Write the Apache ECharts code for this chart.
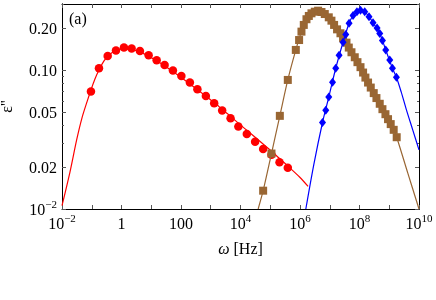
<!DOCTYPE html>
<html>
<head>
<meta charset="utf-8">
<script src="https://cdn.jsdelivr.net/npm/echarts@6/dist/echarts.min.js"></script>
<style>html,body{margin:0;padding:0;background:#fff;}#c{width:436px;height:300px;}</style>
</head>
<body>
<div id="c"></div>
<script>
// ---- data ----
const redPtsX = [0.094, 0.175, 0.343, 0.652, 1.21, 2.19, 4.17, 8.16, 15.2, 28.1, 53.5, 103, 199, 356, 686, 1303, 2420, 4630, 8470, 16300, 31000, 57700, 110000, 205000, 389000];
const redPtsY = [0.0702, 0.1033, 0.1268, 0.1387, 0.1456, 0.1436, 0.1377, 0.128, 0.1178, 0.1092, 0.0997, 0.091, 0.0815, 0.0728, 0.0653, 0.0577, 0.0512, 0.045, 0.0393, 0.0347, 0.0305, 0.0271, 0.0246, 0.0217, 0.0198];
const redFitX = [0.01, 0.0186, 0.0312, 0.047, 0.0692, 0.094, 0.128, 0.175, 0.258, 0.379, 0.603, 1.035, 1.92, 4.17, 9.04, 19.5, 42.4, 91.8, 199, 431, 935, 2024, 4385, 9500, 20600, 44700, 96800, 210000, 454000, 984000, 1.87e6];
const redFitY = [0.01056, 0.01854, 0.0316, 0.0454, 0.0592, 0.0721, 0.0865, 0.1005, 0.1167, 0.1288, 0.1377, 0.1423, 0.1412, 0.1355, 0.1247, 0.113, 0.1014, 0.0902, 0.0797, 0.0703, 0.0617, 0.054, 0.0469, 0.0407, 0.0354, 0.0308, 0.0267, 0.023, 0.0198, 0.01694, 0.01455];

const brownPtsX = [57700, 110000, 210000, 389000, 723000, 933000, 1.12e6, 1.34e6, 1.65e6, 1.98e6, 2.43e6, 3.14e6, 4.06e6, 5.27e6, 6.81e6, 9.27e6, 1.14e7, 1.40e7, 1.76e7, 2.29e7, 2.80e7, 3.65e7, 4.36e7, 5.37e7, 6.93e7, 8.54e7, 1.08e8, 1.32e8, 1.58e8, 1.94e8, 2.39e8, 3.01e8, 3.71e8, 4.79e8, 5.90e8, 7.45e8, 9.10e8, 1.12e9, 1.41e9, 1.78e9];
const brownPtsY = [0.01355, 0.0251, 0.0469, 0.0851, 0.140, 0.165, 0.1897, 0.212, 0.233, 0.246, 0.257, 0.264, 0.2685, 0.2626, 0.254, 0.2405, 0.2275, 0.212, 0.197, 0.1846, 0.170, 0.158, 0.1456, 0.1347, 0.124, 0.1143, 0.1052, 0.0962, 0.0885, 0.0815, 0.075, 0.0684, 0.063, 0.0573, 0.0524, 0.0482, 0.0444, 0.0409, 0.0372, 0.0329];
const brownFitX = [39200, 57700, 110000, 210000, 389000, 723000, 1.12e6, 1.65e6, 2.43e6, 4.06e6, 6.81e6, 1.14e7, 1.76e7, 2.80e7, 4.36e7, 6.93e7, 1.08e8, 1.58e8, 2.39e8, 3.71e8, 5.90e8, 9.10e8, 1.41e9, 1.78e9, 4.18e9, 1e10];
const brownFitY = [0.01, 0.01355, 0.0251, 0.0469, 0.0851, 0.140, 0.1897, 0.233, 0.257, 0.2685, 0.254, 0.2275, 0.197, 0.170, 0.1456, 0.124, 0.1052, 0.0885, 0.075, 0.063, 0.0524, 0.0444, 0.0372, 0.0329, 0.0182, 0.01];

const bluePtsX = [5.70e6, 7.35e6, 9.27e6, 1.24e7, 1.59e7, 2.06e7, 2.80e7, 3.45e7, 4.46e7, 6.07e7, 8.20e7, 1.08e8, 1.50e8, 2.09e8, 2.85e8, 3.89e8, 4.79e8, 5.90e8, 7.62e8, 1.04e9, 1.28e9, 1.74e9];
const bluePtsY = [0.042, 0.0514, 0.064, 0.082, 0.1033, 0.128, 0.159, 0.181, 0.218, 0.248, 0.2636, 0.2705, 0.2636, 0.243, 0.22, 0.2015, 0.184, 0.1634, 0.140, 0.1186, 0.1033, 0.0891];
const blueFitX = [1.57e6, 2.90e6, 5.70e6, 9.27e6, 1.59e7, 2.80e7, 4.46e7, 6.07e7, 8.20e7, 1.08e8, 1.50e8, 2.09e8, 2.85e8, 4.79e8, 7.62e8, 1.28e9, 1.74e9, 2.52e9, 3.78e9, 6.15e9, 1e10];
const blueFitY = [0.01, 0.0208, 0.042, 0.064, 0.1033, 0.159, 0.218, 0.248, 0.2636, 0.2705, 0.2636, 0.243, 0.22, 0.184, 0.140, 0.1033, 0.0891, 0.0698, 0.0518, 0.0372, 0.0267];

// ticks and labels
const xLabelVals = [0.01, 1, 100, 1e4, 1e6, 1e8, 1e10];
const xLabelBase = ['10', '1', '100', '10', '10', '10', '10'];
const xLabelExp  = ['\u22122', '', '', '4', '6', '8', '10'];
const xTickVals = [0.01, 0.1, 1, 10, 100, 1e3, 1e4, 1e5, 1e6, 1e7, 1e8, 1e9, 1e10];
const yLabelVals = [0.01, 0.02, 0.05, 0.1, 0.2];
const yLabelBase = ['10', '0.02', '0.05', '0.10', '0.20'];
const yLabelExp  = ['\u22122', '', '', '', ''];
const yMinorVals = [0.03, 0.04, 0.06, 0.07, 0.08, 0.09, 0.3];

const FONT = "'Liberation Serif','Times New Roman',serif";
const zip = (a, b) => a.map((v, i) => [v, b[i]]);
const richLabel = (bases, exps, vals) => (v) => {
  let i = vals.findIndex(t => Math.abs(Math.log10(t) - Math.log10(v)) < 1e-6);
  if (i < 0) return '';
  return exps[i] ? '{b|' + bases[i] + '}{s|' + exps[i] + '}' : '{b|' + bases[i] + '}';
};
const rich = {
  b: { fontFamily: FONT, fontSize: 16, color: '#000', lineHeight: 19, verticalAlign: 'bottom' },
  s: { fontFamily: FONT, fontSize: 11, color: '#000', lineHeight: 11, verticalAlign: 'top' }
};
const lineStyleAxis = { color: '#000', width: 1 };

function xAx(pos, show) {
  return {
    type: 'log', logBase: 10, min: 0.01, max: 1e10, position: pos, gridIndex: 0,
    axisLine: { show: true, onZero: false, lineStyle: lineStyleAxis },
    axisTick: { show: true, inside: true, length: 4, customValues: xTickVals, lineStyle: { color: '#555' } },
    axisLabel: show ? { show: true, margin: 5, customValues: xLabelVals, formatter: richLabel(xLabelBase, xLabelExp, xLabelVals), rich: rich } : { show: false },
    splitLine: { show: false }, minorTick: { show: false },
    name: show ? '{i|\u03c9} [Hz]' : '', nameLocation: 'middle', nameGap: 33,
    nameTextStyle: { fontFamily: FONT, fontSize: 16, color: '#000', rich: { i: { fontFamily: FONT, fontSize: 16, fontStyle: 'italic', color: '#000' } } }
  };
}
function yAx(pos, show, vals, len) {
  return {
    type: 'log', logBase: 10, min: 0.01, max: 0.3, position: pos, gridIndex: 0,
    axisLine: { show: true, onZero: false, lineStyle: lineStyleAxis },
    axisTick: { show: true, inside: true, length: len, customValues: vals, lineStyle: { color: '#555' } },
    axisLabel: show ? { show: true, margin: 5, customValues: yLabelVals, formatter: richLabel(yLabelBase, yLabelExp, yLabelVals), rich: rich } : { show: false },
    splitLine: { show: false }, minorTick: { show: false },
    name: show ? "\u03b5''" : '', nameLocation: 'middle', nameGap: 46, nameRotate: 90,
    nameTextStyle: { fontFamily: FONT, fontSize: 16, color: '#000' }
  };
}

const chart = echarts.init(document.getElementById('c'), null, { renderer: 'canvas' });
chart.setOption({
  animation: false,
  backgroundColor: '#fff',
  grid: { left: 62, right: 17, top: 4, bottom: 91, containLabel: false, outerBoundsMode: 'none' },
  xAxis: [xAx('bottom', true), xAx('top', false)],
  yAxis: [
    yAx('left', true, yLabelVals, 4),
    yAx('right', false, yLabelVals, 4),
    yAx('left', false, yMinorVals, 2),
    yAx('right', false, yMinorVals, 2)
  ],
  graphic: [{
    type: 'text', left: 69, top: 12,
    style: { text: '(a)', font: "16px 'Liberation Serif','Times New Roman',serif", fill: '#000' }
  }],
  series: [
    { type: 'line', data: zip(redFitX, redFitY), smooth: 0.3, showSymbol: false, symbol: 'none', lineStyle: { color: '#ff0000', width: 1.2 }, silent: true, z: 2 },
    { type: 'scatter', data: zip(redPtsX, redPtsY), symbol: 'circle', symbolSize: 8.5, itemStyle: { color: '#ff0000', opacity: 1 }, z: 3 },
    { type: 'line', data: zip(brownFitX, brownFitY), smooth: 0.3, showSymbol: false, symbol: 'none', lineStyle: { color: '#996633', width: 1.2 }, silent: true, z: 4 },
    { type: 'scatter', data: zip(brownPtsX, brownPtsY), symbol: 'rect', symbolSize: 8, itemStyle: { color: '#996633', opacity: 1 }, z: 5 },
    { type: 'line', data: zip(blueFitX, blueFitY), smooth: 0.3, showSymbol: false, symbol: 'none', lineStyle: { color: '#0000ff', width: 1.2 }, silent: true, z: 6 },
    { type: 'scatter', data: zip(bluePtsX, bluePtsY), symbol: 'diamond', symbolSize: [7, 9], itemStyle: { color: '#0000ff', opacity: 1 }, z: 7 }
  ]
});
</script>
</body>
</html>
